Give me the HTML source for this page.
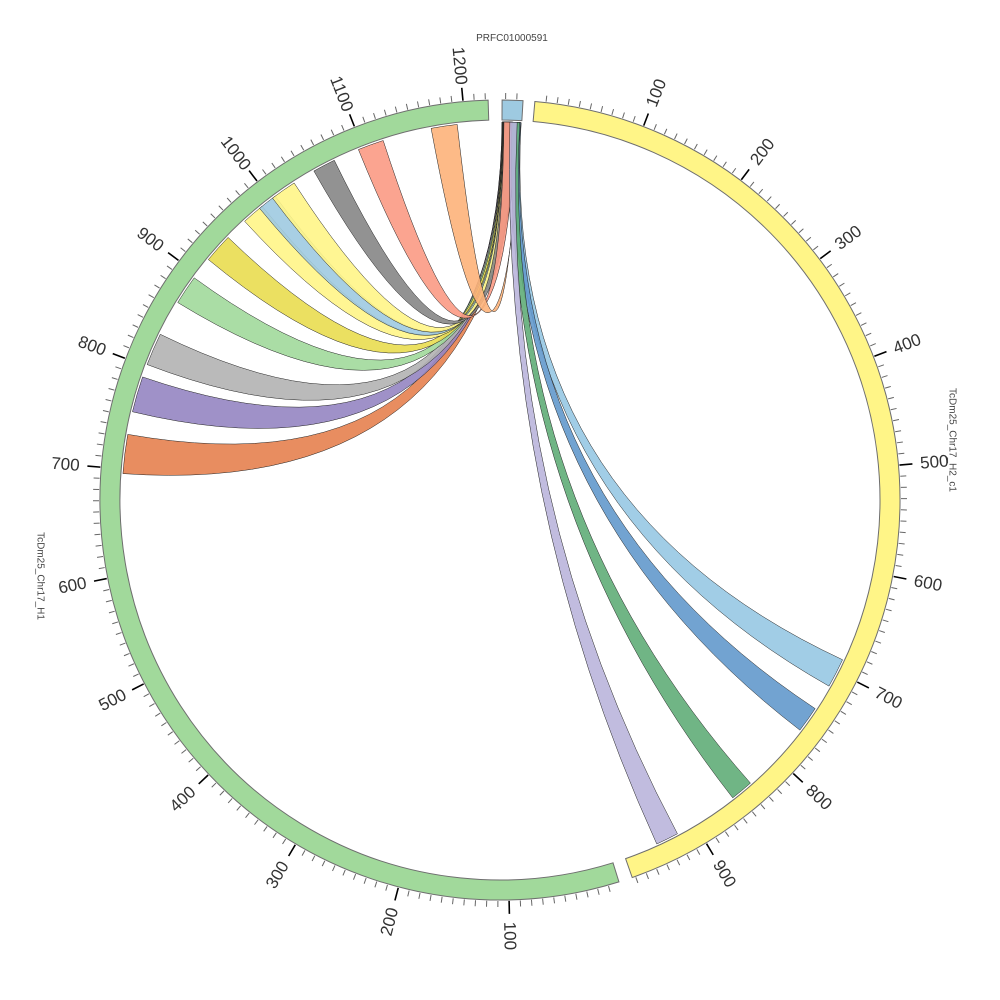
<!DOCTYPE html>
<html><head><meta charset="utf-8"><style>
html,body{margin:0;padding:0;background:#fff;}
svg{display:block;font-family:"Liberation Sans","DejaVu Sans",sans-serif;}
</style></head><body>
<svg id="s" width="1000" height="1000" viewBox="0 0 1000 1000" xmlns="http://www.w3.org/2000/svg"></svg>
<script>
const CX=500,CY=500,R1=380,R2=400;
const svg=document.getElementById('s');
let h='';
function pt(a,r){const t=a*Math.PI/180;return [CX+r*Math.sin(t),CY-r*Math.cos(t)];}
function f(p){return p[0].toFixed(2)+','+p[1].toFixed(2);}
function sector(a1,a2,fill){
  const p1=pt(a1,R2),p2=pt(a2,R2),p3=pt(a2,R1),p4=pt(a1,R1);const lg=(a2-a1)>180?1:0;
  h+=`<path d="M${f(p1)} A${R2},${R2} 0 ${lg} 1 ${f(p2)} L${f(p3)} A${R1},${R1} 0 ${lg} 0 ${f(p4)} Z" fill="${fill}" stroke="#6e6e6e" stroke-width="1"/>`;
}
function ticks(a0,a1,units){
  const per=0.16;
  for(let u=10;u<=units;u+=10){
    const a=a0+u*per; if(a>a1+0.01)break;
    const maj=(u%100===0);
    const p1=pt(a,R2+1),p2=pt(a,R2+(maj?14:7));
    h+=`<line x1="${p1[0].toFixed(2)}" y1="${p1[1].toFixed(2)}" x2="${p2[0].toFixed(2)}" y2="${p2[1].toFixed(2)}" stroke="${maj?'#000':'#666'}" stroke-width="${maj?1.6:1}"/>`;
    if(maj){
      const p=pt(a,R2+36);const na=((a%360)+360)%360;
      const rot=na<180?na-90:na-270;
      h+=`<text x="${p[0].toFixed(2)}" y="${p[1].toFixed(2)}" font-size="17" fill="#333" text-anchor="middle" dominant-baseline="central" transform="rotate(${rot.toFixed(2)} ${p[0].toFixed(2)} ${p[1].toFixed(2)})">${u}</text>`;
    }
  }
}
sector(0.3,3.3,'#9ecae1');
sector(5,160.7,'#fff587');
sector(162.7,358.3,'#a1d99b');
ticks(5,160.7,980);
ticks(162.7,358.3,1230);
[0.8,2.4].forEach(a=>{const p1=pt(a,R2+1),p2=pt(a,R2+7);h+=`<line x1="${p1[0]}" y1="${p1[1]}" x2="${p2[0]}" y2="${p2[1]}" stroke="#666"/>`;});
const rib=[
 [274,280,'#e6814f',0.3,3.0],[283.5,289,'#9585c2',0.3,2.9],[291,296,'#b3b3b3',0.35,2.8],[301.5,306,'#a1d99b',0.4,2.7],
 [309.5,314,'#e9dd50',0.4,2.6],[317.5,321,'#fff587',0.45,2.5],[320.5,323.5,'#9ecae1',0.5,2.4],[323,327,'#fff587',0.5,2.3],
 [330.5,334,'#868686',0.55,2.3],[338,342,'#fb9a84',0.6,2.4],[349.5,353.5,'#fdb27a',2.9,3.2],
 [115,119.5,'#97c8e3',2.0,3.2],[123.5,127.5,'#6399cc',1.9,3.1],[138.5,142,'#60ad78',1.8,3.0],[152,155.5,'#bab5db',1.5,2.6]
];
const RR=378;
rib.forEach(r=>{
  const s1=r[3],s2=r[4],t1=r[0],t2=r[1];
  const a=pt(s1,RR),b=pt(s2,RR),c=pt(t1,RR),d=pt(t2,RR);
  h+=`<path d="M${f(a)} A${RR},${RR} 0 0 1 ${f(b)} Q${CX},${CY} ${f(c)} A${RR},${RR} 0 0 1 ${f(d)} Q${CX},${CY} ${f(a)} Z" fill="${r[2]}" fill-opacity="0.9" stroke="#222" stroke-width="0.5"/>`;
});
h+=`<text x="512" y="41" font-size="10" fill="#444" text-anchor="middle">PRFC01000591</text>`;
h+=`<text x="952" y="440" font-size="10" fill="#444" text-anchor="middle" dominant-baseline="central" transform="rotate(90 952 440)">TcDm25_Chr17_H2_c1</text>`;
h+=`<text x="40" y="576" font-size="10" fill="#444" text-anchor="middle" dominant-baseline="central" transform="rotate(90 40 576)">TcDm25_Chr17_H1</text>`;
svg.innerHTML=h;
</script>
</body></html>
